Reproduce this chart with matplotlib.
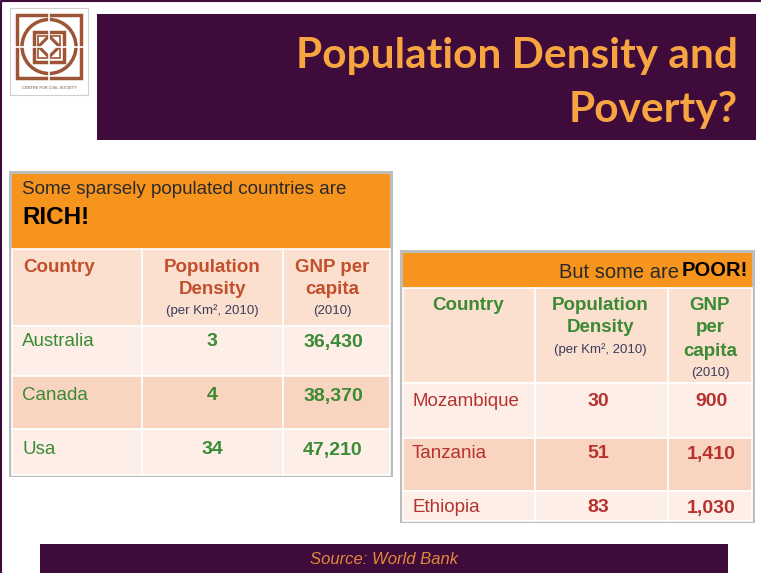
import matplotlib.pyplot as plt
from matplotlib.patches import Rectangle, Circle, Polygon

# table data
rich_countries = ["Australia", "Canada", "Usa"]
rich_density = ["3", "4", "34"]
rich_gnp = ["36,430", "38,370", "47,210"]

poor_countries = ["Mozambique", "Tanzania", "Ethiopia"]
poor_density = ["30", "51", "83"]
poor_gnp = ["900", "1,410", "1,030"]

PURPLE = "#3f0b3b"
ORANGE = "#f7941d"
TITLE_OR = "#f6a540"
HEAD_BG = "#fbdfcf"
ROW_LIGHT = "#fdefe7"
ROW_DARK = "#f9d4c0"
RUST = "#c2502c"
GREEN = "#3b8a34"
RED = "#b7322e"
NOTE = "#3c3c5c"

fig = plt.figure(figsize=(7.61, 5.73), dpi=100)
ax = fig.add_axes([0, 0, 1, 1])
ax.set_xlim(0, 761)
ax.set_ylim(573, 0)
ax.axis("off")

def box(x, y, w, h, fc, ec="none", lw=0, z=1):
    ax.add_patch(Rectangle((x, y), w, h, facecolor=fc, edgecolor=ec, linewidth=lw, zorder=z))

# slide border
ax.plot([1, 1, 760], [573, 1, 1], color=PURPLE, lw=1.5)

# logo
box(10, 8, 78, 87, "white", ec="#cfcfcf", lw=0.8)
brown = "#9c5536"
ax.add_patch(Rectangle((17, 15), 64, 63, fill=False, ec=brown, lw=2.5, zorder=2))
ax.add_patch(Circle((49, 46.5), 27, fill=False, ec=brown, lw=2.5, zorder=2))
ax.add_patch(Rectangle((34, 31.5), 30, 30, fill=False, ec=brown, lw=2.5, zorder=2))
ax.add_patch(Rectangle((38, 35.5), 22, 22, fill=False, ec=brown, lw=1.2, zorder=2))
ax.add_patch(Polygon([(49, 36), (59.5, 46.5), (49, 57), (38.5, 46.5)], closed=True,
                     fill=False, ec=brown, lw=2.2, zorder=2))
ax.plot([49, 49], [13, 80], color="white", lw=1.2, zorder=3)
ax.plot([15, 83], [46.5, 46.5], color="white", lw=1.2, zorder=3)
ax.text(49, 88, "CENTRE FOR CIVIL SOCIETY", fontsize=2.8, color="#6a4a3a",
        ha="center", va="center", family="Liberation Sans")

# title banner
box(97, 14, 659, 126, PURPLE)
ax.text(738, 56, "Population Density and", fontsize=30.5, fontweight="bold", color=TITLE_OR,
        ha="right", va="center", family="Lato")
ax.text(738, 110, "Poverty?", fontsize=30.5, fontweight="bold", color=TITLE_OR,
        ha="right", va="center", family="Lato")

TF = "Liberation Sans"
BODY = 13.5
HEAD = 13.5
SMALL = 9.5

# ---------- left table ----------
lx0, lx1 = 12, 390
ly0 = 174
box(lx0 - 3, ly0 - 3, lx1 - lx0 + 6, 306, "#bdbdbd", z=0)
box(lx0, ly0, lx1 - lx0, 75, ORANGE)
ax.text(22, 190, "Some sparsely populated countries are", fontsize=13.5, color="#2a2a2a",
        ha="left", va="center", family=TF)
ax.text(22, 218, "RICH!", fontsize=17.5, fontweight="bold", color="black",
        ha="left", va="center", family=TF)

lcols = [lx0, 142, 283, lx1]
lrows = [249, 326, 376, 429, 475]
row_bg = [HEAD_BG, ROW_LIGHT, ROW_DARK, ROW_LIGHT]
for r in range(4):
    for c in range(3):
        box(lcols[c], lrows[r], lcols[c + 1] - lcols[c], lrows[r + 1] - lrows[r],
            row_bg[r], ec="white", lw=1.2)

ax.text(23, 267, "Country", fontsize=HEAD, fontweight="bold", color=RUST, ha="left", va="center", family=TF)
ax.text(212, 267, "Population", fontsize=HEAD, fontweight="bold", color=RUST, ha="center", va="center", family=TF)
ax.text(212, 289, "Density", fontsize=HEAD, fontweight="bold", color=RUST, ha="center", va="center", family=TF)
ax.text(212, 311, "(per Km², 2010)", fontsize=SMALL, color=NOTE, ha="center", va="center", family=TF)
ax.text(332, 267, "GNP per", fontsize=HEAD, fontweight="bold", color=RUST, ha="center", va="center", family=TF)
ax.text(332, 289, "capita", fontsize=HEAD, fontweight="bold", color=RUST, ha="center", va="center", family=TF)
ax.text(332, 311, "(2010)", fontsize=SMALL, color=NOTE, ha="center", va="center", family=TF)

left_y = [342, 396, 450]
for i in range(len(rich_countries)):
    y = left_y[i]
    ax.text(22, y, rich_countries[i], fontsize=BODY, color=GREEN, ha="left", va="center", family=TF)
    ax.text(212, y, rich_density[i], fontsize=BODY + 0.5, fontweight="bold", color=GREEN, ha="center", va="center", family=TF)
    ax.text(333, y, rich_gnp[i], fontsize=BODY + 0.5, fontweight="bold", color=GREEN, ha="center", va="center", family=TF)

# ---------- right table ----------
rx0, rx1 = 403, 752
ry0 = 253
box(rx0 - 3, ry0 - 3, rx1 - rx0 + 6, 273, "#bdbdbd", z=0)
box(rx0, ry0, rx1 - rx0, 35, ORANGE)
ax.text(748, 271, "POOR!", fontsize=14.5, fontweight="bold", color="black",
        ha="right", va="center", family=TF)
ax.text(679, 272, "But some are", fontsize=14.5, color="#2a2a2a",
        ha="right", va="center", family=TF)

rcols = [rx0, 535, 668, rx1]
rrows = [288, 383, 438, 491, 521]
for r in range(4):
    for c in range(3):
        box(rcols[c], rrows[r], rcols[c + 1] - rcols[c], rrows[r + 1] - rrows[r],
            row_bg[r], ec="white", lw=1.2)

ax.text(468, 305, "Country", fontsize=HEAD, fontweight="bold", color=GREEN, ha="center", va="center", family=TF)
ax.text(600, 305, "Population", fontsize=HEAD, fontweight="bold", color=GREEN, ha="center", va="center", family=TF)
ax.text(600, 328, "Density", fontsize=HEAD, fontweight="bold", color=GREEN, ha="center", va="center", family=TF)
ax.text(600, 350, "(per Km², 2010)", fontsize=SMALL, color=NOTE, ha="center", va="center", family=TF)
ax.text(710, 305, "GNP", fontsize=HEAD, fontweight="bold", color=GREEN, ha="center", va="center", family=TF)
ax.text(710, 328, "per", fontsize=HEAD, fontweight="bold", color=GREEN, ha="center", va="center", family=TF)
ax.text(710, 352, "capita", fontsize=HEAD, fontweight="bold", color=GREEN, ha="center", va="center", family=TF)
ax.text(710, 373, "(2010)", fontsize=SMALL, color=NOTE, ha="center", va="center", family=TF)

row_y = [401, 454, 508]
for i in range(len(poor_countries)):
    y = row_y[i]
    ax.text(412, y, poor_countries[i], fontsize=BODY, color=RED, ha="left", va="center", family=TF)
    ax.text(598, y, poor_density[i], fontsize=BODY + 0.5, fontweight="bold", color=RED, ha="center", va="center", family=TF)
    ax.text(711, y, poor_gnp[i], fontsize=BODY + 0.5, fontweight="bold", color=RED, ha="center", va="center", family=TF)

# source bar
box(40, 544, 688, 30, PURPLE)
ax.text(384, 559, "Source: World Bank", fontsize=12, style="italic", color="#e0893a",
        ha="center", va="center", family=TF)

plt.savefig("out.png", dpi=100)
